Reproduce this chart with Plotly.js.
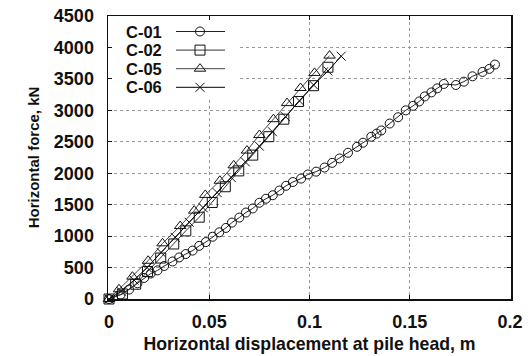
<!DOCTYPE html>
<html><head><meta charset="utf-8">
<script src="https://cdn.plot.ly/plotly-3.0.1.min.js"></script>
<style>html,body{margin:0;padding:0;background:#fff}#chart{width:530px;height:356px}</style>
</head><body><div id="chart"></div>
<script>
const seriesNames = ['C-01', 'C-02', 'C-05', 'C-06'];

const c01X = [0, 0.0058, 0.01, 0.0142, 0.0175, 0.0208, 0.0242, 0.0275, 0.0317, 0.035, 0.0383, 0.0417, 0.045, 0.0483, 0.0517, 0.055, 0.0583, 0.0613, 0.065, 0.0683, 0.0717, 0.075, 0.0783, 0.0817, 0.085, 0.0883, 0.0917, 0.0958, 0.0992, 0.1033, 0.1075, 0.1113, 0.115, 0.1192, 0.1237, 0.1267, 0.1308, 0.1335, 0.1358, 0.14, 0.1442, 0.148, 0.1517, 0.1547, 0.1575, 0.1608, 0.1637, 0.167, 0.173, 0.177, 0.1813, 0.1863, 0.1897, 0.1925];
const c01Y = [0, 70, 150, 250, 335, 405, 455, 525, 597, 661, 715, 770, 845, 905, 990, 1060, 1130, 1215, 1295, 1375, 1440, 1530, 1595, 1650, 1725, 1800, 1860, 1915, 1980, 2025, 2090, 2165, 2235, 2325, 2420, 2485, 2580, 2630, 2680, 2790, 2890, 3000, 3072, 3141, 3221, 3285, 3349, 3419, 3403, 3456, 3541, 3611, 3659, 3728];

const c02X = [0, 0.0067, 0.0133, 0.0192, 0.0258, 0.0323, 0.0383, 0.045, 0.0515, 0.058, 0.0647, 0.0717, 0.0797, 0.0872, 0.0945, 0.102, 0.1092];
const c02Y = [0, 80, 235, 437, 651, 875, 1083, 1301, 1535, 1785, 2037, 2288, 2581, 2859, 3141, 3392, 3685];

const c05X = [0, 0.005, 0.0117, 0.0195, 0.0267, 0.0355, 0.0425, 0.048, 0.0553, 0.0622, 0.0688, 0.075, 0.082, 0.0888, 0.0955, 0.1025, 0.11];
const c05Y = [0, 155, 355, 608, 885, 1160, 1405, 1655, 1880, 2125, 2360, 2608, 2859, 3115, 3355, 3595, 3870];

const c06X = [0, 0.006, 0.0125, 0.019, 0.026, 0.033, 0.04, 0.047, 0.054, 0.061, 0.068, 0.075, 0.0815, 0.088, 0.095, 0.102, 0.1092, 0.1158];
const c06Y = [0, 120, 300, 500, 740, 980, 1220, 1450, 1690, 1930, 2180, 2430, 2660, 2900, 3150, 3405, 3625, 3861];

const xTickVals = [0, 0.05, 0.1, 0.15, 0.2];
const xTickText = ['0', '0.05', '0.1', '0.15', '0.2'];
const yTickVals = [0, 500, 1000, 1500, 2000, 2500, 3000, 3500, 4000, 4500];

const symbols = ['circle-open', 'square-open', 'triangle-up-open', 'x-thin-open'];
const sizes = [9, 10, 10, 9];
const lineColors = ['#222', '#333', '#444', '#000'];
const seriesX = [c01X, c02X, c05X, c06X];
const seriesY = [c01Y, c02Y, c05Y, c06Y];

const traces = [];
for (let i = 0; i < 4; i++) {
  traces.push({
    type: 'scatter', mode: 'lines+markers', name: seriesNames[i],
    x: seriesX[i], y: seriesY[i], cliponaxis: false, showlegend: false,
    line: {color: lineColors[i], width: 1},
    marker: {symbol: symbols[i], size: sizes[i], color: '#111', line: {width: 1, color: '#111'}}
  });
}

// legend box (white, hides grid lines behind the legend) on a pixel-like overlay axis
const legBoxX = [113, 237, 237, 113];
const legBoxY = [21, 21, 98, 98];
traces.push({
  type: 'scatter', mode: 'none', xaxis: 'x2', yaxis: 'y2', showlegend: false, hoverinfo: 'skip',
  x: legBoxX, y: legBoxY, fill: 'toself', fillcolor: '#ffffff'
});

// custom legend (labels left, sample right)
const legRow0 = 31.5, legRowStep = 18.6;
const legSampleX = [176, 200, 225];
const annotations = [];
for (let i = 0; i < 4; i++) {
  const ry = legRow0 + i * legRowStep;
  traces.push({
    type: 'scatter', mode: 'lines+markers', xaxis: 'x2', yaxis: 'y2', showlegend: false,
    x: legSampleX, y: [ry, ry, ry], cliponaxis: false,
    line: {color: lineColors[i], width: 1},
    marker: {symbol: symbols[i], size: sizes[i], color: '#111', opacity: [0, 1, 0], line: {width: 1, color: '#111'}}
  });
  annotations.push({
    xref: 'x2', yref: 'y2', x: 124, y: ry, xanchor: 'left', yanchor: 'middle',
    text: '<b>' + seriesNames[i] + '</b>', showarrow: false,
    font: {family: 'Liberation Sans, Arial, sans-serif', size: 16.5, color: '#111'}
  });
}

const font = {family: 'Liberation Sans, Arial, sans-serif', color: '#111'};
const layout = {
  width: 530, height: 356,
  margin: {l: 108, r: 19, t: 16, b: 57},
  paper_bgcolor: '#fff', plot_bgcolor: '#fff',
  showlegend: false,
  font: font,
  xaxis: {
    range: [-0.0005, 0.2005], tickvals: xTickVals, ticktext: xTickText,
    showline: true, linecolor: '#111', linewidth: 1.5, mirror: 'ticks',
    ticks: 'inside', ticklen: 4, tickcolor: '#111',
    showgrid: true, gridcolor: '#999', griddash: 'dot', gridwidth: 1,
    zeroline: false, ticklabelstandoff: 6,
    tickfont: {family: font.family, size: 18, color: '#111', weight: 'bold'},
    title: {text: '<b>Horizontal displacement at pile head, m</b>', font: {family: font.family, size: 17.7, color: '#111'}, standoff: 6}
  },
  yaxis: {
    range: [0, 4500], tickvals: yTickVals,
    showline: true, linecolor: '#111', linewidth: 1.5, mirror: 'ticks',
    ticks: 'inside', ticklen: 4, tickcolor: '#111',
    showgrid: true, gridcolor: '#999', griddash: 'dot', gridwidth: 1,
    zeroline: false, ticklabelstandoff: 9,
    tickfont: {family: font.family, size: 18, color: '#111', weight: 'bold'},
    title: {text: '<b>Horizontal force, kN</b>', font: {family: font.family, size: 15, color: '#111'}, standoff: 10}
  },
  xaxis2: {overlaying: 'x', anchor: 'y2', range: [108, 511], visible: false, fixedrange: true},
  yaxis2: {overlaying: 'y', anchor: 'x2', range: [299, 16], visible: false, fixedrange: true},
  annotations: annotations
};

Plotly.newPlot('chart', traces, layout, {staticPlot: true, displayModeBar: false});
</script>
</body></html>
